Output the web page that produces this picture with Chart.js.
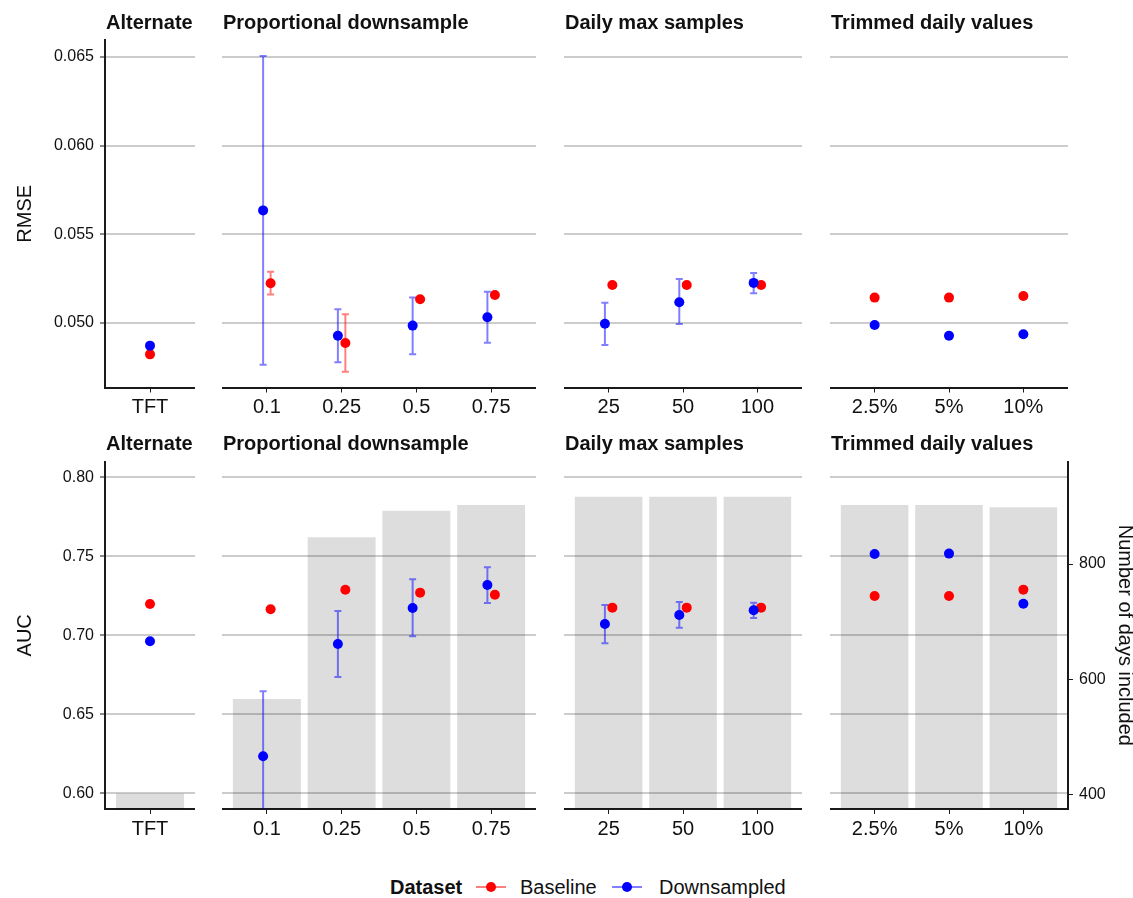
<!DOCTYPE html>
<html><head><meta charset="utf-8">
<script src="https://cdn.jsdelivr.net/npm/chart.js@4.4.1/dist/chart.umd.min.js"></script>
<style>
html,body{margin:0;padding:0;background:#fff;overflow:hidden;width:1133px;height:898px;position:relative;}
canvas{position:absolute;}
.lg{position:absolute;font-family:"Liberation Sans",Arial,Helvetica,sans-serif;font-size:20px;line-height:24px;top:875px;white-space:nowrap;color:#111;}
.key{position:absolute;top:886px;height:2px;width:30px;}
.dot{position:absolute;width:10px;height:10px;border-radius:50%;top:882px;}
</style></head><body>
<canvas id="c00"></canvas><canvas id="c01"></canvas><canvas id="c02"></canvas><canvas id="c03"></canvas>
<canvas id="c10"></canvas><canvas id="c11"></canvas><canvas id="c12"></canvas><canvas id="c13"></canvas>
<div id="legend"></div>
<script>
// ---------- categories / labels ----------
const altCats = ['TFT'];
const propCats = ['0.1', '0.25', '0.5', '0.75'];
const dailyCats = ['25', '50', '100'];
const trimCats = ['2.5%', '5%', '10%'];
const panelTitles = ['Alternate', 'Proportional downsample', 'Daily max samples', 'Trimmed daily values'];
const seriesNames = ['Baseline', 'Downsampled'];
const metricLabels = ['RMSE', 'AUC'];
const legendTitle = 'Dataset';
const daysTitle = 'Number of days included';

// ---------- RMSE ----------
const rmseBaseAlt = [0.04823];
const rmseBaseProp = [0.05224, 0.04887, 0.05134, 0.05158];
const rmseBaseDaily = [0.05214, 0.05214, 0.05214];
const rmseBaseTrim = [0.05143, 0.05143, 0.05152];
const rmseBaseLoProp = [0.05160, 0.04725, null, null];
const rmseBaseHiProp = [0.05289, 0.05049, null, null];
const rmseDownAlt = [0.04872];
const rmseDownProp = [0.05635, 0.04928, 0.04985, 0.05032];
const rmseDownDaily = [0.04996, 0.05117, 0.05226];
const rmseDownTrim = [0.04989, 0.04928, 0.04936];
const rmseDownLoProp = [0.04765, 0.04778, 0.04823, 0.04889];
const rmseDownHiProp = [0.06506, 0.05077, 0.05143, 0.05176];
const rmseDownLoDaily = [0.04876, 0.04994, 0.05167];
const rmseDownHiDaily = [0.05114, 0.05248, 0.05282];

// ---------- AUC ----------
const aucBaseAlt = [0.7198];
const aucBaseProp = [0.7165, 0.7288, 0.7270, 0.7257];
const aucBaseDaily = [0.7175, 0.7175, 0.7175];
const aucBaseTrim = [0.7249, 0.7249, 0.7289];
const aucDownAlt = [0.6962];
const aucDownProp = [0.6234, 0.6945, 0.7173, 0.7318];
const aucDownDaily = [0.7072, 0.7128, 0.7158];
const aucDownTrim = [0.7515, 0.7517, 0.7200];
const aucDownLoProp = [0.5822, 0.6736, 0.6994, 0.7204];
const aucDownHiProp = [0.6646, 0.7154, 0.7354, 0.7430];
const aucDownLoDaily = [0.6949, 0.7048, 0.7109];
const aucDownHiDaily = [0.7192, 0.7211, 0.7206];

// ---------- Days included (bars) ----------
const daysAlt = [401];
const daysProp = [565, 846, 892, 902];
const daysDaily = [916, 916, 916];
const daysTrim = [902, 902, 898];

// ---------- ticks ----------
const rmseTicks = [0.050, 0.055, 0.060, 0.065];
const rmseTickLabels = ['0.050', '0.055', '0.060', '0.065'];
const aucTicks = [0.60, 0.65, 0.70, 0.75, 0.80];
const aucTickLabels = ['0.60', '0.65', '0.70', '0.75', '0.80'];
const dayTicks = [400, 600, 800];
const dayTickLabels = ['400', '600', '800'];

// ---------- view ranges ----------
const rmseRange = [0.04636, 0.06596];
const aucRange = [0.59006, 0.80987];
const daysRange = [374.8, 977.6];

// ---------- layout / style ----------
const COLS = [{left:105,right:195},{left:222,right:536},{left:564,right:802},{left:830,right:1068}];
const ROWS = [{top:40,bottom:387.5,canvasTop:0,canvasH:430},{top:461.7,bottom:809,canvasTop:430,canvasH:430}];
const RIGHT_EDGE = 1137;
const DODGE = [0, 0.05, 0.05, 0];
const INK = '#1a1a1a';
const GRID = 'rgba(0,0,0,0.2)';
const BAR = 'rgba(0,0,0,0.135)';
const RED = '#ff0000', BLUE = '#0000ff';
const RED_E = 'rgba(255,0,0,0.5)', BLUE_E = 'rgba(0,0,255,0.5)';
const FONT = '"Liberation Sans", Arial, Helvetica, sans-serif';

Chart.defaults.font.family = FONT;
Chart.defaults.color = '#111';

const errPlugin = {
  id: 'errbars',
  beforeDatasetDraw(chart, args, opts) {
    const ds = chart.data.datasets[args.index];
    if (!ds.errAnchor) return;
    const items = (opts && opts.items) || [];
    const {ctx, chartArea: a, scales} = chart;
    ctx.save();
    ctx.beginPath(); ctx.rect(a.left, a.top, a.right - a.left, a.bottom - a.top); ctx.clip();
    ctx.lineWidth = 2;
    for (const it of items) {
      if (it.lo == null || it.hi == null) continue;
      const px = scales.x.getPixelForValue(it.x);
      const p1 = scales.y.getPixelForValue(it.lo), p2 = scales.y.getPixelForValue(it.hi);
      ctx.strokeStyle = it.color;
      ctx.beginPath();
      ctx.moveTo(px, p1); ctx.lineTo(px, p2);
      ctx.moveTo(px - 3.5, p1); ctx.lineTo(px + 3.5, p1);
      ctx.moveTo(px - 3.5, p2); ctx.lineTo(px + 3.5, p2);
      ctx.stroke();
    }
    ctx.restore();
  }
};
const facetPlugin = {
  id: 'facet',
  afterDraw(chart, args, opts) {
    if (!opts || !opts.text) return;
    const {ctx, chartArea: a} = chart;
    ctx.save();
    ctx.font = 'bold 20px ' + FONT;
    ctx.fillStyle = '#111';
    ctx.textBaseline = 'alphabetic';
    ctx.fillText(opts.text, a.left + 1, a.top - 11.5);
    ctx.restore();
  }
};
Chart.register(errPlugin, facetPlugin);

function labelFrom(vals, labels) {
  return v => { const k = vals.findIndex(t => Math.abs(t - v) < 1e-9); return k >= 0 ? labels[k] : ''; };
}

function makePanel(s) {
  const col = COLS[s.col], row = ROWS[s.row];
  const hasRight = s.row === 1 && s.col === 3;
  const cLeft = s.col === 0 ? 0 : col.left;
  const cRight = hasRight ? RIGHT_EDGE : col.right;
  const cv = document.getElementById('c' + s.row + s.col);
  cv.width = cRight - cLeft; cv.height = row.canvasH;
  cv.style.left = cLeft + 'px'; cv.style.top = row.canvasTop + 'px';
  const n = s.cats.length;
  const unit = (col.right - col.left) / (n - 1 + 1.2);
  const dodge = DODGE[s.col];
  const xH = row.canvasH - (row.bottom - row.canvasTop);
  const ticks = s.row === 0 ? rmseTicks : aucTicks;
  const tickLabels = s.row === 0 ? rmseTickLabels : aucTickLabels;
  const range = s.row === 0 ? rmseRange : aucRange;

  const datasets = [];
  if (s.days) {
    datasets.push({type: 'bar', data: s.days.map((d, i) => ({x: i, y: d})), xAxisID: 'x', yAxisID: 'yDays',
      backgroundColor: BAR, borderWidth: 0, barThickness: 0.9 * unit, order: 3});
  }
  datasets.push({type: 'scatter', label: seriesNames[0], data: s.base.map((v, i) => ({x: i + dodge, y: v})),
    xAxisID: 'x', yAxisID: 'y', backgroundColor: RED, pointRadius: 5, pointBorderWidth: 0, order: 2, errAnchor: true});
  datasets.push({type: 'scatter', label: seriesNames[1], data: s.down.map((v, i) => ({x: i - dodge, y: v})),
    xAxisID: 'x', yAxisID: 'y', backgroundColor: BLUE, pointRadius: 5, pointBorderWidth: 0, order: 1});

  const items = [];
  if (s.baseLo) s.baseLo.forEach((lo, i) => items.push({x: i + dodge, lo, hi: s.baseHi[i], color: RED_E}));
  if (s.downLo) s.downLo.forEach((lo, i) => items.push({x: i - dodge, lo, hi: s.downHi[i], color: BLUE_E}));

  const scales = {
    x: {type: 'linear', position: 'bottom', min: -0.6, max: n - 1 + 0.6, offset: false,
      afterBuildTicks: ax => { ax.ticks = s.cats.map((c, i) => ({value: i})); },
      afterFit: ax => { ax.height = xH; },
      ticks: {callback: (v, i) => s.cats[i], font: {size: 20}, color: '#111', padding: 3, maxRotation: 0, autoSkip: false},
      grid: {offset: false, drawOnChartArea: false, drawTicks: true, tickLength: 5, tickColor: INK, tickWidth: 1},
      border: {display: true, color: INK, width: 2}},
    y: {type: 'linear', position: 'left', min: range[0], max: range[1],
      afterBuildTicks: ax => { ax.ticks = ticks.map(v => ({value: v})); },
      afterFit: ax => { ax.width = s.col === 0 ? col.left : 0; },
      ticks: {display: s.col === 0, callback: labelFrom(ticks, tickLabels), font: {size: 16}, color: '#111', padding: 6},
      grid: {color: GRID, lineWidth: 2, drawTicks: s.col === 0, tickLength: 5, tickColor: INK, tickWidth: 1},
      border: {display: s.col === 0, color: INK, width: 2},
      title: {display: s.col === 0, text: metricLabels[s.row], font: {size: 20}, color: '#111', padding: {top: 13, bottom: 0}}}
  };
  if (s.row === 1) {
    scales.yDays = {type: 'linear', position: 'right', display: hasRight, min: daysRange[0], max: daysRange[1],
      afterBuildTicks: ax => { ax.ticks = dayTicks.map(v => ({value: v})); },
      afterFit: ax => { ax.width = hasRight ? RIGHT_EDGE - col.right : 0; },
      ticks: {callback: labelFrom(dayTicks, dayTickLabels), font: {size: 16}, color: '#111', padding: 6},
      grid: {drawOnChartArea: false, drawTicks: true, tickLength: 5, tickColor: INK, tickWidth: 1},
      border: {display: true, color: INK, width: 2},
      title: {display: true, text: daysTitle, font: {size: 20}, color: '#111', padding: {top: 0, bottom: 0}}};
  }

  new Chart(cv, {
    type: 'scatter',
    data: {datasets},
    options: {
      responsive: false, animation: false, events: [],
      layout: {autoPadding: false, padding: {top: row.top - row.canvasTop, left: 0, right: 0, bottom: 0}},
      scales,
      plugins: {legend: {display: false}, tooltip: {enabled: false},
        errbars: {items}, facet: {text: panelTitles[s.col]}}
    }
  });
}

// RMSE row
makePanel({row: 0, col: 0, cats: altCats, base: rmseBaseAlt, down: rmseDownAlt});
makePanel({row: 0, col: 1, cats: propCats, base: rmseBaseProp, down: rmseDownProp,
  baseLo: rmseBaseLoProp, baseHi: rmseBaseHiProp, downLo: rmseDownLoProp, downHi: rmseDownHiProp});
makePanel({row: 0, col: 2, cats: dailyCats, base: rmseBaseDaily, down: rmseDownDaily,
  downLo: rmseDownLoDaily, downHi: rmseDownHiDaily});
makePanel({row: 0, col: 3, cats: trimCats, base: rmseBaseTrim, down: rmseDownTrim});
// AUC row
makePanel({row: 1, col: 0, cats: altCats, base: aucBaseAlt, down: aucDownAlt, days: daysAlt});
makePanel({row: 1, col: 1, cats: propCats, base: aucBaseProp, down: aucDownProp, days: daysProp,
  downLo: aucDownLoProp, downHi: aucDownHiProp});
makePanel({row: 1, col: 2, cats: dailyCats, base: aucBaseDaily, down: aucDownDaily, days: daysDaily,
  downLo: aucDownLoDaily, downHi: aucDownHiDaily});
makePanel({row: 1, col: 3, cats: trimCats, base: aucBaseTrim, down: aucDownTrim, days: daysTrim});

// ---------- legend ----------
const lg = document.getElementById('legend');
function add(html) { lg.insertAdjacentHTML('beforeend', html); }
add('<div class="lg" style="left:390px;font-weight:bold">' + legendTitle + '</div>');
add('<div class="key" style="left:476px;background:' + RED_E + '"></div>');
add('<div class="dot" style="left:486px;background:' + RED + '"></div>');
add('<div class="lg" style="left:520px">' + seriesNames[0] + '</div>');
add('<div class="key" style="left:612px;background:' + BLUE_E + '"></div>');
add('<div class="dot" style="left:622px;background:' + BLUE + '"></div>');
add('<div class="lg" style="left:659px">' + seriesNames[1] + '</div>');
</script>
</body></html>
